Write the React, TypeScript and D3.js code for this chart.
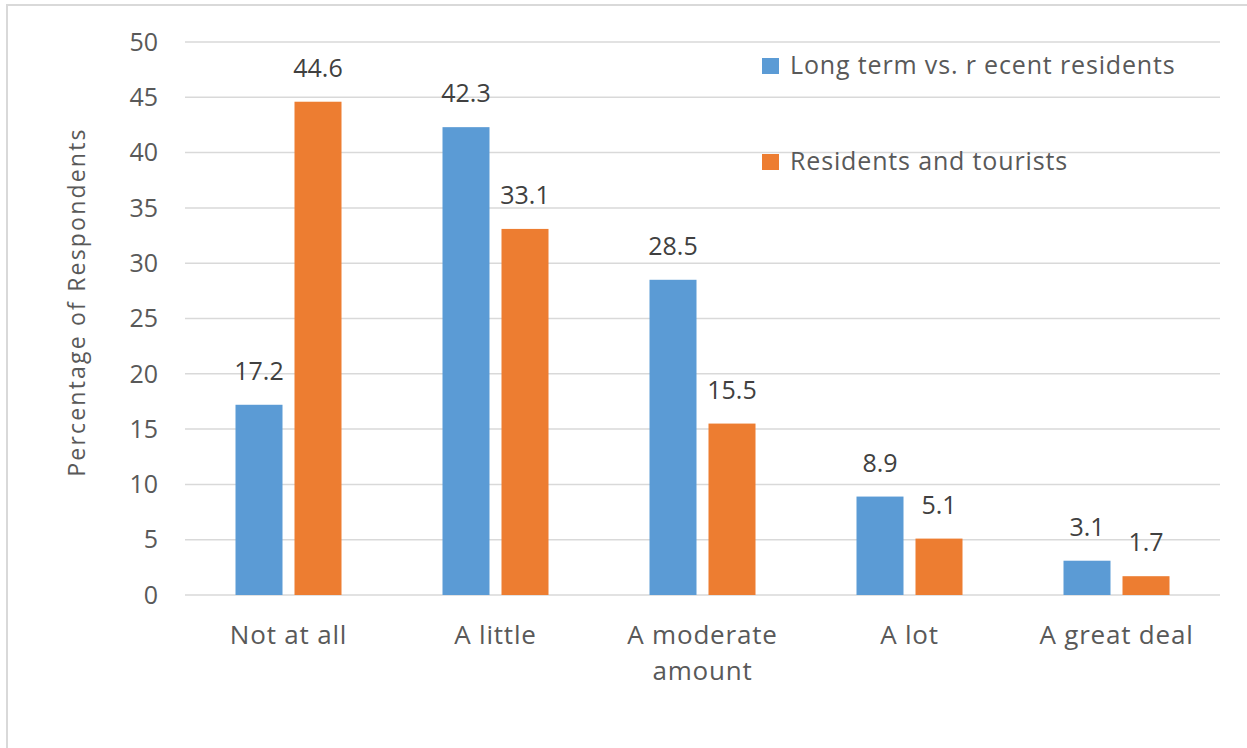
import React from "react";
import * as d3 from "d3";

const categories: string[][] = [
  ["Not at all"],
  ["A little"],
  ["A moderate", "amount"],
  ["A lot"],
  ["A great deal"],
];
const seriesNames = ["Long term vs. r ecent residents", "Residents and tourists"];
const longTermVsRecent = [17.2, 42.3, 28.5, 8.9, 3.1];
const residentsAndTourists = [44.6, 33.1, 15.5, 5.1, 1.7];
const yTicks = [0, 5, 10, 15, 20, 25, 30, 35, 40, 45, 50];
const colors = ["#5b9bd5", "#ed7d31"];

const W = 1247;
const H = 748;
const FONT = "'Open Sans', 'Noto Sans', sans-serif";
const TEXT = "#595959";

export default function App() {
  const left = 185;
  const right = 1220;
  const top = 42;
  const bottom = 595;
  const y = d3.scaleLinear().domain([0, 50]).range([bottom, top]);
  const keys = categories.map((c) => c.join(" "));
  const x0 = d3.scaleBand<string>().domain(keys).range([left, right]).padding(0);
  const x1 = d3
    .scaleBand<number>()
    .domain([0, 1])
    .range([50.5, 156.5])
    .paddingInner(12 / 59)
    .paddingOuter(0);
  const series = [longTermVsRecent, residentsAndTourists];

  return (
    <svg
      width={W}
      height={H}
      style={{ position: "absolute", left: 0, top: 0, background: "#fff" }}
      fontFamily={FONT}
    >
      <rect x={0} y={0} width={W} height={H} fill="#fff" />
      <rect x={7} y={5} width={W + 20} height={H + 20} fill="none" stroke="#d9d9d9" strokeWidth={2} />
      {yTicks.map((t) => (
        <g key={t}>
          <line x1={left} x2={right} y1={y(t)} y2={y(t)} stroke="#d9d9d9" strokeWidth={1.5} />
          <text x={158} y={y(t)} dy="0.35em" textAnchor="end" fontSize={25} fill={TEXT}>
            {t}
          </text>
        </g>
      ))}
      <text
        transform={`translate(77,302) rotate(-90)`}
        textAnchor="middle"
        dy="0.35em"
        fontSize={23}
        letterSpacing={2.2}
        fill={TEXT}
      >
        Percentage of Respondents
      </text>
      {series.map((vals, si) =>
        vals.map((v, i) => {
          const bx = (x0(keys[i]) as number) + (x1(si) as number);
          const bw = x1.bandwidth();
          return (
            <g key={`${si}-${i}`}>
              <rect x={bx} y={y(v)} width={bw} height={y(0) - y(v)} fill={colors[si]} />
              <text x={bx + bw / 2} y={y(v) - 25} textAnchor="middle" fontSize={25} fill="#404040">
                {v.toFixed(1)}
              </text>
            </g>
          );
        })
      )}
      {categories.map((lines, i) => (
        <text
          key={keys[i]}
          x={(x0(keys[i]) as number) + x0.bandwidth() / 2}
          y={644}
          textAnchor="middle"
          fontSize={26}
          letterSpacing={0.8}
          fill={TEXT}
        >
          {lines.map((l, j) => (
            <tspan key={j} x={(x0(keys[i]) as number) + x0.bandwidth() / 2} dy={j === 0 ? 0 : 36}>
              {l}
            </tspan>
          ))}
        </text>
      ))}
      {seriesNames.map((name, i) => (
        <g key={name} transform={`translate(762,${i === 0 ? 58 : 154})`}>
          <rect x={0} y={0} width={17} height={16} fill={colors[i]} />
          <text x={28} y={16} fontSize={25} letterSpacing={0.85} fill={TEXT}>
            {name}
          </text>
        </g>
      ))}
    </svg>
  );
}
